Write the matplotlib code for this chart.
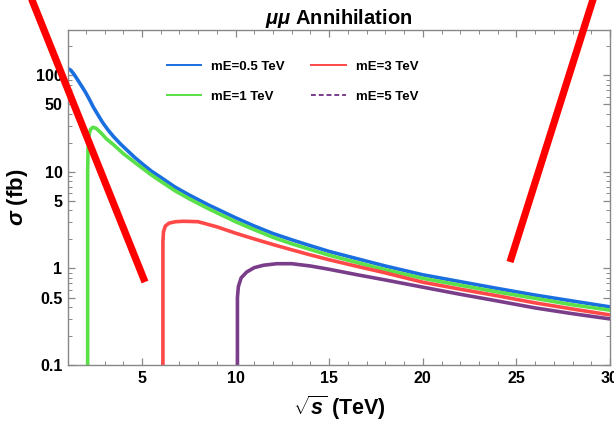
import matplotlib
matplotlib.use('Agg')
import matplotlib.pyplot as plt
from matplotlib.lines import Line2D
import numpy as np

# cross sections (sqrt(s) in TeV, sigma in fb)
x_05 = [1.1, 1.2, 1.35, 1.5, 1.75, 2.0, 2.2, 2.4, 2.65, 2.9, 3.2, 3.5, 3.85, 4.2, 4.6, 5.0, 5.5, 6.0, 6.75, 7.5, 8.5,
        10, 11, 12, 13, 14, 15, 16.5, 18, 20, 22, 24, 26, 28, 30]
y_05 = [116, 113, 104, 94, 79, 66, 56, 47, 39, 32.5, 27, 23, 19.5, 16.8, 14.2, 12.2, 10.2, 8.8, 7.0, 5.8, 4.6,
        3.35, 2.75, 2.3, 1.98, 1.72, 1.5, 1.26, 1.06, 0.86, 0.73, 0.62, 0.53, 0.46, 0.40]

x_1 = [2.1, 2.1, 2.12, 2.17, 2.25, 2.38, 2.55, 2.8, 3.1, 3.5, 4.0, 4.6, 5.0, 5.5, 6.0, 6.75, 7.5, 8.5,
       10, 11, 12, 13, 14, 15, 16.5, 18, 20, 22, 24, 26, 28, 30]
y_1 = [0.08, 10, 17, 24, 27.5, 29, 28.3, 25.5, 22, 19, 15.5, 12.6, 11, 9.3, 8.0, 6.4, 5.3, 4.2,
       3.05, 2.52, 2.1, 1.8, 1.57, 1.37, 1.15, 0.97, 0.79, 0.67, 0.57, 0.49, 0.42, 0.37]

x_3 = [6.12, 6.12, 6.15, 6.25, 6.45, 6.8, 7.2, 8.0, 9.0, 10, 11, 12, 13, 14, 15, 16.5, 18, 20, 22, 24, 26, 28, 30]
y_3 = [0.08, 1.9, 2.4, 2.75, 2.95, 3.05, 3.08, 3.05, 2.7, 2.32, 2.02, 1.77, 1.56, 1.38, 1.23, 1.05, 0.9,
       0.72, 0.61, 0.52, 0.44, 0.38, 0.33]

x_5 = [10.1, 10.1, 10.15, 10.3, 10.6, 11.0, 11.5, 12.2, 13.0, 14.0, 15.0, 16.5, 18, 20, 22, 24, 26, 28, 30]
y_5 = [0.08, 0.5, 0.65, 0.8, 0.92, 1.02, 1.08, 1.12, 1.12, 1.06, 0.98, 0.86, 0.76, 0.64, 0.54, 0.46, 0.39, 0.34, 0.30]

labels = ['mE=0.5 TeV', 'mE=1 TeV', 'mE=3 TeV', 'mE=5 TeV']
colors = ['#1a6fe0', '#5ae048', '#ff4848', '#7a3d8a']

x_ticks = [5, 10, 15, 20, 25, 30]
y_ticks = [0.1, 0.5, 1, 5, 10, 50, 100]
y_ticklabels = ['0.1', '0.5', '1', '5', '10', '50', '100']

# the two red strokes drawn over the picture (figure pixels)
strokes = [((28, -10), (145, 282)), ((596, -10), (510, 262))]

plt.rcParams['font.family'] = 'Liberation Sans'
plt.rcParams['font.weight'] = 'bold'
plt.rcParams['mathtext.fontset'] = 'custom'
plt.rcParams['mathtext.rm'] = 'Liberation Sans:bold'
plt.rcParams['mathtext.it'] = 'Liberation Sans:bold:italic'
plt.rcParams['mathtext.bf'] = 'Liberation Sans:bold'
plt.rcParams['mathtext.bfit'] = 'Liberation Sans:bold:italic'

W, H = 614, 432
fig = plt.figure(figsize=(W / 100, H / 100), dpi=100)
ax = fig.add_axes([68 / W, 1 - 365 / H, (610 - 68) / W, (365 - 30) / H])

series = [(x_05, y_05), (x_1, y_1), (x_3, y_3), (x_5, y_5)]
for (xs, ys), c in zip(series, colors):
    ax.plot(xs, ys, color=c, lw=2.6, solid_joinstyle='round')

ax.set_yscale('log')
ax.set_xlim(1.05, 30)
ax.set_ylim(0.1, 295)

ax.set_xticks(x_ticks)
ax.set_xticklabels([str(t) for t in x_ticks])
ax.set_xticks(np.arange(2, 30, 1), minor=True)
ax.set_yticks(y_ticks)
ax.set_yticklabels(y_ticklabels)
minor_y = [m * d for d in [0.1, 1, 10, 100] for m in range(2, 10) if m != 5 and m * d < 295]
ax.set_yticks(minor_y, minor=True)
ax.tick_params(which='both', direction='in', top=True, right=True, color='#888888',
               labelsize=11.5, pad=4)
ax.tick_params(which='major', length=5, width=0.9)
ax.tick_params(which='minor', length=3, width=0.7)
for s in ax.spines.values():
    s.set_color('#888888')
    s.set_linewidth(1.0)

ax.set_title(r'$\mathbfit{\mu\mu}$ Annihilation', fontsize=14.5, fontweight='bold', pad=4)
ax.set_xlabel(r'$\sqrt{\mathbfit{s}}$ (TeV)', fontsize=15.5, fontweight='bold', labelpad=6)
ax.set_ylabel(r'$\mathbfit{\sigma}$ (fb)', fontsize=16, fontweight='bold', labelpad=4)

handles = [Line2D([], [], color=colors[0], lw=1.4),
           Line2D([], [], color=colors[1], lw=1.4),
           Line2D([], [], color=colors[2], lw=1.4),
           Line2D([], [], color=colors[3], lw=1.4, ls=(0, (2.5, 1.5)))]
ax.legend(handles, labels, ncol=2, loc='upper left', bbox_to_anchor=(0.16, 0.945),
          frameon=False, prop={'size': 9.5, 'weight': 'bold'},
          handlelength=2.6, handletextpad=0.8, columnspacing=2.0, labelspacing=1.35)

for (p0, p1) in strokes:
    fig.add_artist(Line2D([p0[0] / W, p1[0] / W], [1 - p0[1] / H, 1 - p1[1] / H],
                          color='#ff0000', lw=5.2, solid_capstyle='butt',
                          transform=fig.transFigure))

fig.savefig('out.png', dpi=100)
